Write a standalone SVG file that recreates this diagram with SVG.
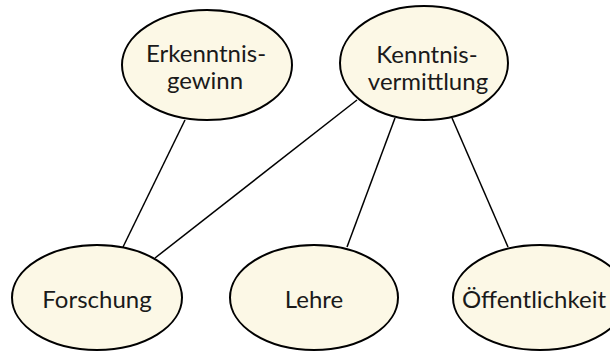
<svg xmlns="http://www.w3.org/2000/svg" width="610" height="351" viewBox="0 0 610 351">
  <style>
    .node ellipse { fill: #fcf8e6; stroke: #000; stroke-width: 2; }
    .node text { font-family: Lato, "Open Sans", sans-serif; font-size: 24px; fill: #1a1a1a; text-anchor: middle; }
    .edges line { stroke: #000; stroke-width: 1.5; }
  </style>
  <rect width="610" height="351" fill="#fff"/>
  <g id="edges" class="edges">
    <line x1="185" y1="120" x2="123" y2="247"/>
    <line x1="357" y1="100" x2="155" y2="258"/>
    <line x1="395" y1="118" x2="347" y2="247"/>
    <line x1="452" y1="118" x2="508" y2="247"/>
  </g>
  <g id="erkenntnisgewinn" class="node">
    <ellipse cx="207" cy="65" rx="85" ry="55"/>
    <text x="206" y="62">Erkenntnis-</text>
    <text x="205" y="89">gewinn</text>
  </g>
  <g id="kenntnisvermittlung" class="node">
    <ellipse cx="424" cy="63" rx="84" ry="57"/>
    <text x="427" y="63">Kenntnis-</text>
    <text x="428" y="90">vermittlung</text>
  </g>
  <g id="forschung" class="node">
    <ellipse cx="97" cy="297.5" rx="85" ry="52.5"/>
    <text x="97" y="308">Forschung</text>
  </g>
  <g id="lehre" class="node">
    <ellipse cx="314" cy="297.5" rx="84" ry="52.5"/>
    <text x="314" y="308">Lehre</text>
  </g>
  <g id="oeffentlichkeit" class="node">
    <ellipse cx="540" cy="297.5" rx="87" ry="52.5"/>
    <text x="534" y="308">Öffentlichkeit</text>
  </g>
</svg>
